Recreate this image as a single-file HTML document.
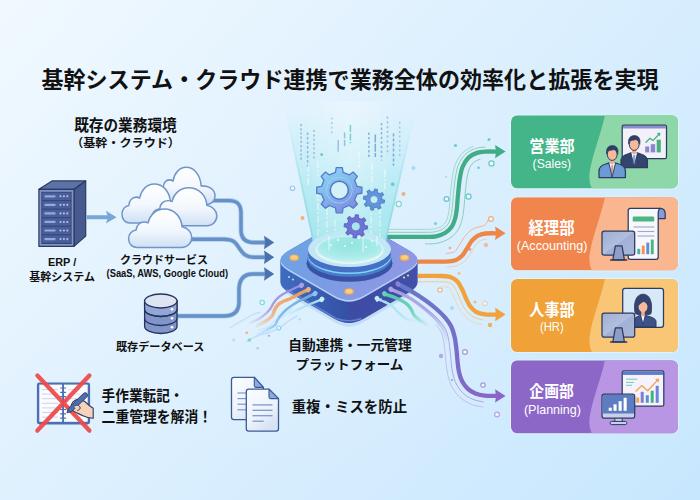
<!DOCTYPE html>
<html lang="ja"><head><meta charset="utf-8"><title>基幹システム・クラウド連携</title>
<style>
html,body{margin:0;padding:0;background:#e4f1fc;}
body{width:700px;height:500px;overflow:hidden;font-family:"Liberation Sans","Noto Sans CJK JP",sans-serif;}
svg{display:block}
svg text{font-family:"Liberation Sans","Noto Sans CJK JP",sans-serif;}
</style></head><body>
<svg width="700" height="500" viewBox="0 0 700 500">

<defs>
<linearGradient id="bg" gradientUnits="userSpaceOnUse" x1="0" y1="0" x2="635" y2="572">
 <stop offset="0" stop-color="#f1f9ff"/><stop offset="0.5" stop-color="#dbeffe"/><stop offset="1" stop-color="#c7e7fe"/>
</linearGradient>
<radialGradient id="bgc" gradientUnits="userSpaceOnUse" cx="300" cy="255" r="310" gradientTransform="translate(300 255) scale(1 0.72) translate(-300 -255)">
 <stop offset="0" stop-color="#eef6fd" stop-opacity="0.14"/><stop offset="0.55" stop-color="#eef6fd" stop-opacity="0.1"/><stop offset="1" stop-color="#eef6fd" stop-opacity="0"/>
</radialGradient>
</defs>
<rect width="700" height="500" fill="url(#bg)"/>
<rect width="700" height="500" fill="url(#bgc)"/>

<clipPath id="bc0"><rect x="511" y="115.3" width="167" height="73.2" rx="6.5"/></clipPath><rect x="510.2" y="114.5" width="168.6" height="74.8" rx="7.2" fill="#e4f6fb" opacity="0.85"/><g clip-path="url(#bc0)"><rect x="511" y="115.3" width="167" height="73.2" fill="#44b489"/><path d="M605 115.3 C 600 137.3, 592 155.3, 589.5 173.3 C 589 179.3, 590 185.3, 592 188.5 L 678 188.5 L 678 115.3 Z" fill="#8dd7a8"/></g><clipPath id="bc1"><rect x="511" y="197.2" width="167" height="73.2" rx="6.5"/></clipPath><rect x="510.2" y="196.39999999999998" width="168.6" height="74.8" rx="7.2" fill="#e4f6fb" opacity="0.85"/><g clip-path="url(#bc1)"><rect x="511" y="197.2" width="167" height="73.2" fill="#f0854d"/><path d="M605 197.2 C 600 219.2, 592 237.2, 589.5 255.2 C 589 261.2, 590 267.2, 592 270.4 L 678 270.4 L 678 197.2 Z" fill="#f9b68f"/></g><clipPath id="bc2"><rect x="511" y="278.9" width="167" height="73.2" rx="6.5"/></clipPath><rect x="510.2" y="278.09999999999997" width="168.6" height="74.8" rx="7.2" fill="#e4f6fb" opacity="0.85"/><g clip-path="url(#bc2)"><rect x="511" y="278.9" width="167" height="73.2" fill="#f0a138"/><path d="M605 278.9 C 600 300.9, 592 318.9, 589.5 336.9 C 589 342.9, 590 348.9, 592 352.1 L 678 352.1 L 678 278.9 Z" fill="#f9c675"/></g><clipPath id="bc3"><rect x="511" y="360.3" width="167" height="73.2" rx="6.5"/></clipPath><rect x="510.2" y="359.5" width="168.6" height="74.8" rx="7.2" fill="#e4f6fb" opacity="0.85"/><g clip-path="url(#bc3)"><rect x="511" y="360.3" width="167" height="73.2" fill="#8d67c7"/><path d="M605 360.3 C 600 382.3, 592 400.3, 589.5 418.3 C 589 424.3, 590 430.3, 592 433.5 L 678 433.5 L 678 360.3 Z" fill="#b896e4"/></g>
<path d="M212 200.6 L229 200.6 C 238 200.6, 241 205, 241 213 L241 230 C 241 238, 245 242.5, 254 242.5 L265 242.5" fill="none" stroke="#b2cfed" stroke-width="5.0" stroke-linecap="butt"/><path d="M212 200.6 L229 200.6 C 238 200.6, 241 205, 241 213 L241 230 C 241 238, 245 242.5, 254 242.5 L265 242.5" fill="none" stroke="#6690c8" stroke-width="3.4" stroke-linecap="butt"/><path d="M190 239.2 L224 239.2 C 234 239.2, 236 243, 239.5 248.5 C 243 254, 246 257.2, 254 257.2 L265 257.2" fill="none" stroke="#b2cfed" stroke-width="5.0" stroke-linecap="butt"/><path d="M190 239.2 L224 239.2 C 234 239.2, 236 243, 239.5 248.5 C 243 254, 246 257.2, 254 257.2 L265 257.2" fill="none" stroke="#6690c8" stroke-width="3.4" stroke-linecap="butt"/><path d="M177 316 L224 316 C 234 316, 239 311, 239 302 L239 290 C 239 280, 243 274, 253 274 L265 274" fill="none" stroke="#b2cfed" stroke-width="5.0" stroke-linecap="butt"/><path d="M177 316 L224 316 C 234 316, 239 311, 239 302 L239 290 C 239 280, 243 274, 253 274 L265 274" fill="none" stroke="#6690c8" stroke-width="3.4" stroke-linecap="butt"/><path d="M264.0 235.7 L274.2 242.5 L264.0 249.3 L265.0 242.5 Z" fill="#4b72ad"/><path d="M264.0 250.39999999999998 L274.2 257.2 L264.0 264.0 L265.0 257.2 Z" fill="#4b72ad"/><path d="M264.0 267.2 L274.2 274 L264.0 280.8 L265.0 274 Z" fill="#4b72ad"/>
<path d="M384.0 229.3 C390.8 229.3 416.5 229.4 424.9 229.3 C433.3 229.2 431.8 229.3 434.5 228.8 C437.2 228.4 439.3 227.5 441.1 226.5 C442.9 225.4 444.2 224.2 445.3 222.6 C446.4 221.0 447.1 219.3 447.7 216.9 C448.4 214.4 448.8 211.8 449.3 208.1 C449.7 204.3 450.0 199.1 450.4 194.3 C450.9 189.4 451.3 183.8 452.1 178.8 C452.9 173.8 453.6 168.6 455.4 164.2 C457.3 159.8 460.2 155.1 463.2 152.2 C466.2 149.2 471.6 147.2 473.3 146.2" fill="none" stroke="#8ad0b6" stroke-width="0.9" opacity="0.8"/><path d="M384.0 232.3 C390.8 232.3 416.4 232.4 424.9 232.3 C433.5 232.2 432.2 232.3 435.1 231.8 C438.1 231.2 440.5 230.3 442.6 229.1 C444.7 227.8 446.4 226.2 447.8 224.3 C449.1 222.4 449.8 220.4 450.6 217.7 C451.3 215.1 451.8 212.3 452.2 208.4 C452.7 204.6 453.0 199.4 453.4 194.6 C453.9 189.7 454.3 184.1 455.1 179.3 C455.9 174.4 456.5 169.5 458.2 165.3 C459.9 161.1 462.4 157.1 465.3 154.3 C468.2 151.5 472.2 149.8 475.5 148.5 C478.8 147.3 483.7 147.3 485.3 147.0" fill="none" stroke="#8ad0b6" stroke-width="1"/><path d="M425.1 243.9 C427.1 243.8 433.4 244.0 437.3 243.2 C441.3 242.4 445.3 241.0 448.6 239.0 C451.9 237.0 455.0 234.1 457.2 231.1 C459.4 228.1 460.6 224.5 461.7 221.0 C462.8 217.4 463.2 214.1 463.7 209.9 C464.3 205.7 464.5 200.5 465.0 195.7 C465.4 190.9 465.8 185.5 466.5 181.1 C467.2 176.8 467.9 172.7 469.0 169.6 C470.2 166.5 471.5 164.4 473.4 162.6 C475.3 160.9 479.2 159.6 480.4 159.0" fill="none" stroke="#8ad0b6" stroke-width="1"/><path d="M384.0 236.9 C390.8 236.9 416.3 237.0 425.0 236.9 C433.7 236.8 432.7 237.0 436.0 236.3 C439.3 235.7 442.4 234.6 445.0 233.0 C447.6 231.4 449.8 229.3 451.5 227.0 C453.2 224.7 454.1 222.0 455.0 219.0 C455.9 216.0 456.3 213.0 456.8 209.0 C457.3 205.0 457.5 199.8 458.0 195.0 C458.5 190.2 458.9 184.7 459.6 180.0 C460.4 175.3 461.0 170.7 462.5 167.0 C464.0 163.3 466.1 159.9 468.5 157.6 C470.9 155.2 474.1 153.9 477.0 152.9 C479.9 151.9 482.8 151.8 486.0 151.6 C489.2 151.4 494.8 151.6 496.5 151.6" fill="none" stroke="#40ad87" stroke-width="4.3"/><path d="M495.1 144.9 L505.6 151.6 L495.1 158.29999999999998 L496.0 151.6 Z" fill="#40ad87"/><path d="M445.7 253.4 C446.9 253.3 451.0 253.0 452.7 252.5 C454.4 251.9 454.9 251.5 456.2 250.1 C457.4 248.6 458.6 246.4 460.1 244.0 C461.6 241.7 463.0 238.4 465.3 235.8 C467.5 233.2 470.4 230.3 473.6 228.6 C476.8 226.8 481.9 226.9 484.4 225.4 C486.9 223.8 487.8 220.4 488.5 219.4" fill="none" stroke="#f5b48e" stroke-width="1"/><path d="M446.8 267.1 C448.6 266.9 454.2 266.7 457.4 265.5 C460.6 264.2 463.6 262.0 466.0 259.7 C468.4 257.4 470.0 254.1 471.7 251.5 C473.4 249.0 474.5 246.4 475.9 244.6 C477.3 242.8 478.3 241.7 480.2 240.7 C482.0 239.8 485.9 239.2 487.0 238.9" fill="none" stroke="#f5b48e" stroke-width="0.8" opacity="0.7"/><path d="M418.0 261.6 C422.7 261.6 439.8 261.8 446.0 261.6 C452.2 261.4 452.8 261.2 455.5 260.2 C458.2 259.2 460.1 257.8 462.0 255.8 C463.9 253.9 465.4 251.0 467.0 248.5 C468.6 246.0 469.9 243.1 471.6 241.0 C473.4 238.9 475.2 237.1 477.5 235.8 C479.8 234.6 482.3 233.9 485.5 233.5 C488.7 233.1 494.7 233.3 496.5 233.3" fill="none" stroke="#ee8648" stroke-width="4.3"/><path d="M495.1 226.60000000000002 L505.6 233.3 L495.1 240.0 L496.0 233.3 Z" fill="#ee8648"/><path d="M418.0 281.8 C422.0 281.8 436.5 281.6 441.8 281.8 C447.0 282.0 447.6 282.2 449.5 282.8 C451.4 283.5 452.1 284.2 453.3 285.7 C454.5 287.2 455.6 289.2 456.8 291.6 C458.0 294.1 459.1 297.5 460.6 300.5 C462.0 303.4 463.2 306.7 465.3 309.4 C467.4 312.2 470.2 315.1 473.2 316.9 C476.2 318.6 481.7 319.5 483.4 320.0" fill="none" stroke="#f6c98e" stroke-width="1"/><path d="M441.6 286.6 C442.6 286.7 446.4 286.9 447.8 287.3 C449.2 287.7 449.0 287.8 449.7 288.9 C450.5 290.0 451.5 291.5 452.5 293.8 C453.6 296.1 454.7 299.4 456.2 302.5 C457.7 305.6 459.0 309.2 461.5 312.3 C463.9 315.4 467.4 319.0 470.8 321.0 C474.3 323.1 480.2 324.0 482.1 324.6" fill="none" stroke="#f6c98e" stroke-width="0.8" opacity="0.7"/><path d="M418.0 276.0 C422.0 276.0 436.4 275.8 442.0 276.0 C447.6 276.2 448.9 276.4 451.5 277.4 C454.1 278.4 455.9 279.9 457.6 281.8 C459.4 283.7 460.6 286.3 462.0 289.0 C463.4 291.7 464.5 295.2 465.8 298.0 C467.1 300.8 468.3 303.7 470.0 306.0 C471.7 308.3 473.5 310.4 476.0 311.8 C478.5 313.2 481.6 313.9 485.0 314.4 C488.4 314.8 494.6 314.5 496.5 314.5" fill="none" stroke="#f0a23c" stroke-width="4.3"/><path d="M495.1 307.8 L505.6 314.5 L495.1 321.2 L496.0 314.5 Z" fill="#f0a23c"/>

<linearGradient id="pside" x1="0" y1="0" x2="1" y2="0">
 <stop offset="0" stop-color="#3f6cc0"/><stop offset="0.5" stop-color="#3450a6"/><stop offset="0.5" stop-color="#3d4ba3"/><stop offset="1" stop-color="#4350aa"/>
</linearGradient>
<linearGradient id="ptop" x1="0" y1="0" x2="1" y2="0.3">
 <stop offset="0" stop-color="#68a6e6"/><stop offset="0.45" stop-color="#789ce4"/><stop offset="1" stop-color="#8f98e4"/>
</linearGradient>
<radialGradient id="disc" cx="0.5" cy="0.35" r="0.75">
 <stop offset="0" stop-color="#7fe0d6"/><stop offset="0.6" stop-color="#9fe9e6"/><stop offset="1" stop-color="#d8f7f4"/>
</radialGradient>
<path d="M292.5 297.8 Q278.3 289.5 292.5 281.2 L334.9 256.5 Q349.0 248.2 363.1 256.5 L405.5 281.2 Q419.7 289.5 405.5 297.8 L363.1 322.5 Q349.0 330.8 334.9 322.5 Z" fill="#a8c2ee" opacity="0.42"/><path id="pdia" d="M288.2 268.9 Q273.0 260.0 288.2 251.1 L333.8 224.5 Q349.0 215.6 364.2 224.5 L409.8 251.1 Q425.0 260.0 409.8 268.9 L364.2 295.5 Q349.0 304.4 333.8 295.5 Z" fill="url(#pside)"/><use href="#pdia" y="1"/><use href="#pdia" y="2"/><use href="#pdia" y="3"/><use href="#pdia" y="4"/><use href="#pdia" y="5"/><use href="#pdia" y="6"/><use href="#pdia" y="7"/><use href="#pdia" y="8"/><use href="#pdia" y="9"/><use href="#pdia" y="10"/><use href="#pdia" y="11"/><use href="#pdia" y="12"/><use href="#pdia" y="13"/><use href="#pdia" y="14"/><use href="#pdia" y="15"/><use href="#pdia" y="16"/><use href="#pdia" y="17"/><use href="#pdia" y="18"/><use href="#pdia" y="19"/><use href="#pdia" y="20"/><use href="#pdia" y="21"/><use href="#pdia" y="22"/><use href="#pdia" y="23"/><path d="M287 289.6 L337 318.79999999999995 Q349 322.56 361 318.79999999999995" fill="none" stroke="#6288d6" stroke-width="1.5" opacity="0.9" stroke-linecap="round"/><path d="M288.2 270.7 Q273.0 261.8 288.2 252.9 L333.8 226.3 Q349.0 217.4 364.2 226.3 L409.8 252.9 Q425.0 261.8 409.8 270.7 L364.2 297.3 Q349.0 306.2 333.8 297.3 Z" fill="#b4d0f6"/><path d="M288.2 268.9 Q273.0 260.0 288.2 251.1 L333.8 224.5 Q349.0 215.6 364.2 224.5 L409.8 251.1 Q425.0 260.0 409.8 268.9 L364.2 295.5 Q349.0 304.4 333.8 295.5 Z" fill="url(#ptop)"/><circle cx="289" cy="277" r="1.1" fill="#9fd8f2"/><circle cx="293" cy="279.5" r="1.1" fill="#9fd8f2"/><circle cx="404" cy="277.5" r="1.1" fill="#f6d38a"/><circle cx="408" cy="275.5" r="1.1" fill="#f6d38a"/><circle cx="377" cy="301" r="1.0" fill="#a8b8ee"/><circle cx="381" cy="299" r="1.0" fill="#a8b8ee"/><ellipse cx="294.2" cy="257.7" rx="4.8" ry="3.3" fill="#f2aa55"/><ellipse cx="294.2" cy="257.4" rx="3.4" ry="2.2" fill="#fad07e"/><ellipse cx="404.5" cy="257.7" rx="4.8" ry="3.3" fill="#f2aa55"/><ellipse cx="404.5" cy="257.4" rx="3.4" ry="2.2" fill="#fad07e"/><ellipse cx="349" cy="291.5" rx="4.8" ry="3.3" fill="#f2aa55"/><ellipse cx="349" cy="291.2" rx="3.4" ry="2.2" fill="#fad07e"/>

<linearGradient id="beamg" gradientUnits="userSpaceOnUse" x1="0" y1="264" x2="0" y2="101">
 <stop offset="0" stop-color="#92e2e6" stop-opacity="0.97"/>
 <stop offset="0.25" stop-color="#a6e6ee" stop-opacity="0.96"/>
 <stop offset="0.55" stop-color="#bcecf5" stop-opacity="0.9"/>
 <stop offset="0.82" stop-color="#d0f0f9" stop-opacity="0.6"/>
 <stop offset="1" stop-color="#dcf3fa" stop-opacity="0"/>
</linearGradient>
<linearGradient id="beame" gradientUnits="userSpaceOnUse" x1="0" y1="250" x2="0" y2="120">
 <stop offset="0" stop-color="#7fd3e2" stop-opacity="0.9"/><stop offset="0.6" stop-color="#9adcea" stop-opacity="0.5"/><stop offset="1" stop-color="#b4e6f2" stop-opacity="0"/>
</linearGradient>
<linearGradient id="beamc" x1="0" y1="0" x2="1" y2="0">
 <stop offset="0" stop-color="#ffffff" stop-opacity="0.0"/>
 <stop offset="0.5" stop-color="#ffffff" stop-opacity="0.3"/>
 <stop offset="1" stop-color="#ffffff" stop-opacity="0.0"/>
</linearGradient>
<path d="M283 101 L418 101 L384 249.5 A34.7 14.2 0 0 1 314.6 249.5 Z" fill="url(#beamg)"/>
<path d="M303 101 L398 101 L376 250 L322 250 Z" fill="url(#beamc)"/>
<path d="M283.8 101 L315.2 249.5 M417.2 101 L383.4 249.5" stroke="url(#beame)" stroke-width="1.8" fill="none"/>
<line x1="301.1" y1="124" x2="301.1" y2="160.4" stroke="#86a9d6" stroke-width="1.5" stroke-dasharray="2.2 2" opacity="0.8"/><line x1="307.6" y1="132.5" x2="307.6" y2="167.9" stroke="#7fa6d8" stroke-width="1.5" stroke-dasharray="2.4 2.2" opacity="0.8"/><line x1="314" y1="130" x2="314" y2="160" stroke="#8ab0dc" stroke-width="1.5" stroke-dasharray="2 2.4" opacity="0.8"/><line x1="331.8" y1="117.5" x2="331.8" y2="134.6" stroke="#a4c4e4" stroke-width="1.5" stroke-dasharray="2 2.6" opacity="0.8"/><line x1="338.2" y1="140" x2="338.2" y2="151.8" stroke="#8fb2dc" stroke-width="1.5" stroke-dasharray="12 1" opacity="0.8"/><line x1="344.6" y1="132.5" x2="344.6" y2="146.4" stroke="#7fb8d8" stroke-width="1.5" stroke-dasharray="6 1.5" opacity="0.8"/><line x1="350.4" y1="125" x2="350.4" y2="143.2" stroke="#5ecab8" stroke-width="1.5" stroke-dasharray="7 1.5" opacity="0.8"/><line x1="368.9" y1="132.5" x2="368.9" y2="158.2" stroke="#7a9fd8" stroke-width="1.5" stroke-dasharray="2.4 2" opacity="0.8"/><line x1="375.3" y1="134.6" x2="375.3" y2="157.1" stroke="#6f98d6" stroke-width="1.5" stroke-dasharray="8 1.2" opacity="0.8"/><line x1="381.5" y1="122.9" x2="381.5" y2="160.4" stroke="#7da4da" stroke-width="1.5" stroke-dasharray="2.4 2.2" opacity="0.8"/><line x1="387.5" y1="116.4" x2="387.5" y2="155" stroke="#8fb2de" stroke-width="1.5" stroke-dasharray="2.2 2.6" opacity="0.8"/><line x1="393.5" y1="133.6" x2="393.5" y2="165.7" stroke="#6f98d6" stroke-width="1.5" stroke-dasharray="3 2" opacity="0.8"/><line x1="399.7" y1="121.8" x2="399.7" y2="157.1" stroke="#9dbde2" stroke-width="1.5" stroke-dasharray="2 2.6" opacity="0.8"/><line x1="308.2" y1="165" x2="308.2" y2="186" stroke="#ffffff" stroke-width="1.1" opacity="0.7" stroke-dasharray="7 2 2 2"/><line x1="317.9" y1="161" x2="317.9" y2="176" stroke="#ffffff" stroke-width="1.1" opacity="0.7" stroke-dasharray="7 2 2 2"/><line x1="359" y1="152" x2="359" y2="168" stroke="#ffffff" stroke-width="1.1" opacity="0.7" stroke-dasharray="7 2 2 2"/><line x1="371.9" y1="163" x2="371.9" y2="186" stroke="#ffffff" stroke-width="1.1" opacity="0.7" stroke-dasharray="7 2 2 2"/><line x1="384.9" y1="170" x2="384.9" y2="189" stroke="#ffffff" stroke-width="1.1" opacity="0.7" stroke-dasharray="7 2 2 2"/><line x1="318" y1="190" x2="318" y2="238" stroke="#ffffff" stroke-width="1.1" opacity="0.7" stroke-dasharray="7 2 2 2"/><line x1="327" y1="208" x2="327" y2="244" stroke="#ffffff" stroke-width="1.1" opacity="0.7" stroke-dasharray="7 2 2 2"/><line x1="335" y1="220" x2="335" y2="248" stroke="#ffffff" stroke-width="1.1" opacity="0.7" stroke-dasharray="7 2 2 2"/><line x1="363" y1="218" x2="363" y2="248" stroke="#ffffff" stroke-width="1.1" opacity="0.7" stroke-dasharray="7 2 2 2"/><line x1="371" y1="204" x2="371" y2="244" stroke="#ffffff" stroke-width="1.1" opacity="0.7" stroke-dasharray="7 2 2 2"/><line x1="380" y1="194" x2="380" y2="240" stroke="#ffffff" stroke-width="1.1" opacity="0.7" stroke-dasharray="7 2 2 2"/><circle cx="321.7" cy="154.6" r="1.4" fill="#5ccab0"/><circle cx="392.4" cy="183.9" r="1.6" fill="#5ccab8" opacity="0.8"/>
<ellipse cx="349.5" cy="263.2" rx="43" ry="18.6" fill="#3a52a3"/><ellipse cx="349.5" cy="258.5" rx="42" ry="18.3" fill="#4a7bd0"/><ellipse cx="349.5" cy="256" rx="41.6" ry="18" fill="#7fd6f2"/><ellipse cx="349.5" cy="254.6" rx="41.6" ry="18" fill="#4570c6"/><ellipse cx="349.5" cy="249.2" rx="41.4" ry="17.8" fill="#c2e6f8"/><ellipse cx="349.7" cy="250.1" rx="34" ry="14" fill="#f3fcf1"/><ellipse cx="349.7" cy="249.2" rx="32.4" ry="12.6" fill="url(#disc)"/>
<linearGradient id="bfg" gradientUnits="userSpaceOnUse" x1="0" y1="205" x2="0" y2="262"><stop offset="0" stop-color="#bdeef4" stop-opacity="0"/><stop offset="1" stop-color="#bdeef4" stop-opacity="0.4"/></linearGradient><path d="M304 200 L395.4 200 L384 249.5 A34.7 14.2 0 0 1 314.6 249.5 Z" fill="url(#bfg)"/><circle cx="338" cy="240" r="0.9" fill="#fff" opacity="0.9"/><circle cx="345" cy="246" r="0.9" fill="#fff" opacity="0.9"/><circle cx="352" cy="243" r="0.9" fill="#fff" opacity="0.9"/><circle cx="359" cy="238" r="0.9" fill="#fff" opacity="0.9"/><circle cx="366" cy="247" r="0.9" fill="#fff" opacity="0.9"/><circle cx="372" cy="241" r="0.9" fill="#fff" opacity="0.9"/><circle cx="331" cy="245" r="0.9" fill="#fff" opacity="0.9"/><line x1="329" y1="236" x2="329" y2="250" stroke="#fff" stroke-width="0.9" opacity="0.8"/><line x1="363" y1="238" x2="363" y2="252" stroke="#fff" stroke-width="0.9" opacity="0.8"/><line x1="377" y1="236" x2="377" y2="246" stroke="#fff" stroke-width="0.9" opacity="0.8"/>

<linearGradient id="g1" x1="0.2" y1="0" x2="0.8" y2="1"><stop offset="0" stop-color="#8ad6f5"/><stop offset="0.5" stop-color="#80b4ec"/><stop offset="1" stop-color="#7f86de"/></linearGradient>
<path d="M335.47 172.41 L336.26 167.60 L342.34 167.60 L343.13 172.41 L349.17 174.91 L353.13 172.08 L357.42 176.37 L354.59 180.33 L357.09 186.37 L361.90 187.16 L361.90 193.24 L357.09 194.03 L354.59 200.07 L357.42 204.03 L353.13 208.32 L349.17 205.49 L343.13 207.99 L342.34 212.80 L336.26 212.80 L335.47 207.99 L329.43 205.49 L325.47 208.32 L321.18 204.03 L324.01 200.07 L321.51 194.03 L316.70 193.24 L316.70 187.16 L321.51 186.37 L324.01 180.33 L321.18 176.37 L325.47 172.08 L329.43 174.91 Z" fill="url(#g1)" stroke="#5679ca" stroke-width="1.3" stroke-linejoin="round"/><circle cx="339.3" cy="190.2" r="13" fill="none" stroke="#a6d6f4" stroke-width="0.9" opacity="0.8"/><circle cx="339.3" cy="190.2" r="9" fill="#d3f1f6" stroke="#5275c6" stroke-width="1.5"/><path d="M373.97 191.60 L374.79 189.03 L377.39 189.56 L377.15 192.24 L379.63 193.92 L382.03 192.68 L383.50 194.90 L381.43 196.62 L382.00 199.57 L384.57 200.39 L384.04 202.99 L381.36 202.75 L379.68 205.23 L380.92 207.63 L378.70 209.10 L376.98 207.03 L374.03 207.60 L373.21 210.17 L370.61 209.64 L370.85 206.96 L368.37 205.28 L365.97 206.52 L364.50 204.30 L366.57 202.58 L366.00 199.63 L363.43 198.81 L363.96 196.21 L366.64 196.45 L368.32 193.97 L367.08 191.57 L369.30 190.10 L371.02 192.17 Z" fill="#6294da" stroke="#5685cf" stroke-width="1.2" stroke-linejoin="round"/><circle cx="374" cy="199.6" r="4" fill="#c4ecf4" stroke="#5685cf" stroke-width="0.8"/><path d="M354.88 217.65 L355.50 214.80 L358.40 215.09 L358.44 218.00 L361.34 219.56 L363.79 217.99 L365.63 220.24 L363.60 222.33 L364.55 225.48 L367.40 226.10 L367.11 229.00 L364.20 229.04 L362.64 231.94 L364.21 234.39 L361.96 236.23 L359.87 234.20 L356.72 235.15 L356.10 238.00 L353.20 237.71 L353.16 234.80 L350.26 233.24 L347.81 234.81 L345.97 232.56 L348.00 230.47 L347.05 227.32 L344.20 226.70 L344.49 223.80 L347.40 223.76 L348.96 220.86 L347.39 218.41 L349.64 216.57 L351.73 218.60 Z" fill="#6e74d4" stroke="#6068c8" stroke-width="1.2" stroke-linejoin="round"/><circle cx="355.8" cy="226.4" r="4.5" fill="#a8e6ec" stroke="#6068c8" stroke-width="0.8"/>
<circle cx="398.7" cy="204" r="2.6" fill="#fff" fill-opacity="0.7" stroke="#74d6c9" stroke-width="1.2" opacity="0.9"/><circle cx="446.5" cy="199" r="2.4" fill="#fff" fill-opacity="0.7" stroke="#53c3cf" stroke-width="1.2" opacity="0.9"/><circle cx="468.5" cy="196.5" r="2.6" fill="#fff" fill-opacity="0.7" stroke="#53c3cf" stroke-width="1.2" opacity="0.9"/><circle cx="491.5" cy="163.5" r="2.6" fill="#fff" fill-opacity="0.7" stroke="#5cc7b5" stroke-width="1.2" opacity="0.9"/><circle cx="455.5" cy="145.5" r="1.6" fill="#53c3cf" opacity="0.85"/><circle cx="489" cy="139.5" r="1.5" fill="#53c3cf" opacity="0.85"/><circle cx="413.5" cy="168" r="2" fill="#7fcdea" opacity="0.6"/><circle cx="478.5" cy="167.8" r="1.3" fill="#53c3cf" opacity="0.85"/><circle cx="435.5" cy="223.5" r="1.6" fill="#53c3cf" opacity="0.7"/><circle cx="446" cy="177" r="1" fill="#53c3cf" opacity="0.5"/><circle cx="403.5" cy="194" r="2" fill="#f2a45e" opacity="0.85"/><circle cx="393" cy="184.5" r="1.8" fill="#6fc3dd" opacity="0.7"/><circle cx="491" cy="219" r="2.4" fill="#fff" fill-opacity="0.7" stroke="#f2a76f" stroke-width="1.2" opacity="0.9"/><circle cx="486" cy="245" r="2.2" fill="#f4b08a" opacity="0.8"/><circle cx="470" cy="249.5" r="1.4" fill="#ee8e6a" opacity="0.85"/><circle cx="450" cy="248" r="1.3" fill="#ee9a7a" opacity="0.8"/><circle cx="459" cy="273.5" r="1.4" fill="#f4b58a" opacity="0.8"/><circle cx="440" cy="290" r="2.2" fill="#fff" fill-opacity="0.7" stroke="#f3b47c" stroke-width="1.2" opacity="0.9"/><circle cx="475" cy="302" r="1.5" fill="#f3b060" opacity="0.8"/><circle cx="485" cy="303.5" r="2.2" fill="#fff" fill-opacity="0.7" stroke="#f3c088" stroke-width="0.9" opacity="0.9"/><circle cx="490" cy="325" r="2.2" fill="#f2a43e" opacity="0.85"/><circle cx="452" cy="308" r="2" fill="#7fd3ea" opacity="0.6"/><circle cx="465" cy="352" r="2.4" fill="#fff" fill-opacity="0.7" stroke="#a78ce0" stroke-width="1.2" opacity="0.9"/><circle cx="441" cy="356" r="2.2" fill="#9d8fe0" opacity="0.7"/><circle cx="483" cy="385" r="2.2" fill="#fff" fill-opacity="0.7" stroke="#a78ce0" stroke-width="1.2" opacity="0.9"/><circle cx="497" cy="414.5" r="2.4" fill="#fff" fill-opacity="0.7" stroke="#b79be6" stroke-width="1.2" opacity="0.9"/><circle cx="452" cy="380" r="1" fill="#8a7fd0" opacity="0.8"/><circle cx="292.5" cy="188.2" r="2.2" fill="#fff" fill-opacity="0.7" stroke="#8cc4ee" stroke-width="1.2" opacity="0.9"/><circle cx="302.5" cy="218" r="2" fill="#f2a45e" opacity="0.85"/>
<linearGradient id="pg" gradientUnits="userSpaceOnUse" x1="405" y1="295" x2="500" y2="396"><stop offset="0" stop-color="#6876cc"/><stop offset="0.6" stop-color="#7a6cc8"/><stop offset="1" stop-color="#8a66c8"/></linearGradient><path d="M422.0 305.8 C423.8 307.2 429.7 311.6 432.8 314.3 C435.9 317.0 438.4 319.5 440.5 321.9 C442.6 324.4 444.0 326.2 445.3 328.8 C446.5 331.4 447.4 334.0 448.2 337.5 C449.0 341.0 449.5 345.6 450.0 349.8 C450.6 354.0 450.8 358.8 451.2 362.7 C451.7 366.7 451.9 369.9 452.8 373.4 C453.6 377.0 454.6 380.6 456.3 383.9 C458.1 387.3 460.5 390.7 463.2 393.3 C466.0 395.9 469.5 398.0 473.0 399.4 C476.4 400.9 482.0 401.5 483.8 402.0" fill="none" stroke="#b3a4e2" stroke-width="1"/><path d="M435.8 324.3 C436.6 325.5 439.4 328.8 440.6 331.1 C441.8 333.5 442.4 335.4 443.1 338.7 C443.8 341.9 444.4 346.3 444.9 350.4 C445.4 354.5 445.6 359.3 446.1 363.3 C446.5 367.3 446.8 370.8 447.7 374.6 C448.6 378.5 449.7 382.6 451.7 386.3 C453.7 390.1 456.5 394.1 459.7 397.1 C462.9 400.1 467.0 402.5 471.0 404.2 C474.9 405.9 481.2 406.6 483.2 407.1" fill="none" stroke="#b3a4e2" stroke-width="0.9" opacity="0.7"/><path d="M398.0 284.0 C400.3 285.3 407.3 288.8 412.0 291.6 C416.7 294.4 421.8 297.8 426.0 300.8 C430.2 303.8 433.8 306.7 437.0 309.5 C440.2 312.3 443.1 315.1 445.4 317.8 C447.7 320.6 449.5 323.0 451.0 326.0 C452.5 329.0 453.5 332.2 454.4 336.0 C455.3 339.8 455.9 344.7 456.4 349.0 C456.9 353.3 457.2 358.2 457.6 362.0 C458.0 365.8 458.3 368.8 459.0 372.0 C459.7 375.2 460.6 378.2 462.0 381.0 C463.4 383.8 465.4 386.5 467.6 388.6 C469.8 390.7 472.6 392.3 475.4 393.5 C478.2 394.7 481.0 395.2 484.5 395.6 C488.0 396.0 494.5 395.8 496.5 395.9" fill="none" stroke="url(#pg)" stroke-width="4.3"/><path d="M495.1 389.2 L505.6 395.9 L495.1 402.59999999999997 L496.0 395.9 Z" fill="#8a66c8"/><linearGradient id="cb1" gradientUnits="userSpaceOnUse" x1="391" y1="289" x2="447" y2="345"><stop offset="0" stop-color="#a99fe2"/><stop offset="0.55" stop-color="#a99fe2" stop-opacity="0.85"/><stop offset="1" stop-color="#a99fe2" stop-opacity="0"/></linearGradient><path d="M391.0 289.5 C392.8 290.2 398.5 292.4 402.0 294.0 C405.5 295.6 408.2 296.9 412.0 299.4 C415.8 301.9 420.8 305.5 425.0 309.0 C429.2 312.5 434.0 316.7 437.2 320.4 C440.4 324.1 442.3 326.9 444.0 331.0 C445.7 335.1 446.9 342.7 447.5 345.0" fill="none" stroke="url(#cb1)" stroke-width="3.3" stroke-linecap="round"/><linearGradient id="cb2" gradientUnits="userSpaceOnUse" x1="384" y1="294" x2="429" y2="326"><stop offset="0" stop-color="#58cdb0"/><stop offset="0.55" stop-color="#58cdb0" stop-opacity="0.85"/><stop offset="1" stop-color="#58cdb0" stop-opacity="0"/></linearGradient><path d="M384.6 294.0 C386.5 294.7 392.4 296.4 396.0 298.0 C399.6 299.6 403.8 301.6 406.4 303.6 C409.0 305.6 410.1 307.9 411.5 310.0 C412.9 312.1 413.2 314.4 414.8 316.2 C416.4 318.0 418.7 319.4 421.0 321.0 C423.3 322.6 427.5 325.2 428.8 326.0" fill="none" stroke="url(#cb2)" stroke-width="3.3" stroke-linecap="round"/><linearGradient id="cb3" gradientUnits="userSpaceOnUse" x1="377" y1="299" x2="421" y2="323"><stop offset="0" stop-color="#a9e6f2"/><stop offset="0.55" stop-color="#a9e6f2" stop-opacity="0.85"/><stop offset="1" stop-color="#a9e6f2" stop-opacity="0"/></linearGradient><path d="M377.0 299.0 C378.3 299.5 382.4 300.8 385.0 302.0 C387.6 303.2 390.1 304.6 392.4 306.4 C394.7 308.2 396.7 310.9 399.0 313.0 C401.3 315.1 404.1 317.8 406.4 319.0 C408.7 320.2 410.7 319.8 413.0 320.5 C415.3 321.2 419.2 322.8 420.4 323.2" fill="none" stroke="url(#cb3)" stroke-width="2.6" stroke-linecap="round"/><ellipse cx="398" cy="284" rx="2.4" ry="2.8" fill="#8d80d6" transform="rotate(-30 398 284)"/><ellipse cx="391" cy="289.3" rx="2.4" ry="2.8" fill="#b0a3e6" transform="rotate(-30 391 289.3)"/><ellipse cx="384.6" cy="293.8" rx="2.4" ry="2.8" fill="#5fd4b4" transform="rotate(-30 384.6 293.8)"/><ellipse cx="377.2" cy="298.6" rx="2.4" ry="2.8" fill="#bfeef6" transform="rotate(-30 377.2 298.6)"/><linearGradient id="cb4" gradientUnits="userSpaceOnUse" x1="301" y1="285" x2="247" y2="325"><stop offset="0" stop-color="#9b90e0"/><stop offset="0.55" stop-color="#9b90e0" stop-opacity="0.85"/><stop offset="1" stop-color="#9b90e0" stop-opacity="0"/></linearGradient><path d="M301.2 285.2 C299.3 286.1 293.6 288.6 290.0 290.5 C286.4 292.4 282.2 294.5 279.5 296.5 C276.8 298.5 275.5 300.5 274.0 302.5 C272.5 304.5 271.8 306.7 270.5 308.5 C269.2 310.3 267.8 311.9 266.0 313.5 C264.2 315.1 262.8 316.5 260.0 318.2 C257.2 319.9 251.2 322.6 249.5 323.5" fill="none" stroke="url(#cb4)" stroke-width="2.3" stroke-linecap="round"/><linearGradient id="cb5" gradientUnits="userSpaceOnUse" x1="308" y1="289" x2="252" y2="329"><stop offset="0" stop-color="#f2a060"/><stop offset="0.55" stop-color="#f2a060" stop-opacity="0.85"/><stop offset="1" stop-color="#f2a060" stop-opacity="0"/></linearGradient><path d="M308.0 289.7 C306.5 290.4 302.0 292.5 299.0 294.0 C296.0 295.5 292.6 297.5 290.0 298.7 C287.4 299.9 285.5 300.2 283.5 301.2 C281.5 302.2 279.5 303.2 278.0 304.7 C276.5 306.2 275.5 308.1 274.5 310.0 C273.5 311.9 273.6 314.1 272.0 316.0 C270.4 317.9 267.5 319.9 265.0 321.5 C262.5 323.1 258.3 325.0 257.0 325.7" fill="none" stroke="url(#cb5)" stroke-width="3.4" stroke-linecap="round"/><linearGradient id="cb6" gradientUnits="userSpaceOnUse" x1="315" y1="293" x2="254" y2="337"><stop offset="0" stop-color="#6fb0e2"/><stop offset="0.55" stop-color="#6fb0e2" stop-opacity="0.85"/><stop offset="1" stop-color="#6fb0e2" stop-opacity="0"/></linearGradient><path d="M314.7 293.5 C312.8 294.4 307.1 297.1 303.5 299.0 C299.9 300.9 295.8 302.9 293.0 304.7 C290.2 306.4 288.5 307.8 286.5 309.5 C284.5 311.2 282.5 313.4 281.0 315.2 C279.5 316.9 278.5 318.4 277.5 320.0 C276.5 321.6 276.9 323.2 275.0 325.0 C273.1 326.8 269.0 328.9 266.0 330.5 C263.0 332.1 258.5 334.0 257.0 334.7" fill="none" stroke="url(#cb6)" stroke-width="2.5" stroke-linecap="round"/><linearGradient id="cb7" gradientUnits="userSpaceOnUse" x1="322" y1="299" x2="285" y2="316"><stop offset="0" stop-color="#a8e2f2"/><stop offset="0.55" stop-color="#a8e2f2" stop-opacity="0.85"/><stop offset="1" stop-color="#a8e2f2" stop-opacity="0"/></linearGradient><path d="M321.5 299.5 C319.8 300.2 314.8 302.1 311.5 303.5 C308.2 304.9 304.8 306.4 302.0 307.7 C299.2 308.9 297.2 309.9 295.0 311.0 C292.8 312.1 289.6 313.9 288.5 314.5" fill="none" stroke="url(#cb7)" stroke-width="2.3" stroke-linecap="round"/><ellipse cx="301.5" cy="285.3" rx="2.4" ry="2.8" fill="#a9a0e6" transform="rotate(30 301.5 285.3)"/><ellipse cx="308.3" cy="289.6" rx="2.4" ry="2.8" fill="#f3ae72" transform="rotate(30 308.3 289.6)"/><ellipse cx="315.0" cy="293.6" rx="2.4" ry="2.8" fill="#8cc4f0" transform="rotate(30 315.0 293.6)"/><ellipse cx="321.8" cy="299.4" rx="2.4" ry="2.8" fill="#c4f0f8" transform="rotate(30 321.8 299.4)"/><path d="M297.5 316.0 C295.9 316.9 291.0 319.5 288.0 321.5 C285.0 323.5 282.7 326.2 279.5 328.0 C276.3 329.8 272.5 331.2 269.0 332.5 C265.5 333.8 262.2 334.1 258.5 335.5 C254.8 336.9 248.9 340.1 247.0 341.0" fill="none" stroke="#a3d0f2" stroke-width="1.4" opacity="0.55" stroke-linecap="round"/><path d="M260.0 312.2 C258.7 312.7 254.5 313.9 252.0 315.0 C249.5 316.1 247.5 317.6 245.0 319.0 C242.5 320.4 239.5 322.0 237.0 323.5 C234.5 325.0 231.2 327.2 230.0 328.0" fill="none" stroke="#a3d0f2" stroke-width="1.3" opacity="0.5" stroke-linecap="round"/><path d="M292.0 309.0 C290.7 310.2 286.7 314.2 284.0 316.0 C281.3 317.8 278.7 318.2 276.0 320.0 C273.3 321.8 270.8 325.3 268.0 327.0 C265.2 328.7 260.5 329.5 259.0 330.0" fill="none" stroke="#a3d0f2" stroke-width="1.1" opacity="0.35" stroke-linecap="round"/><circle cx="262.2" cy="302.5" r="2.2" fill="#fff" fill-opacity="0.7" stroke="#6fdcd8" stroke-width="1.2" opacity="0.9"/><circle cx="278.7" cy="328" r="2.0" fill="#fff" fill-opacity="0.7" stroke="#7fd4f0" stroke-width="1.2" opacity="0.9"/><circle cx="246.8" cy="332.8" r="1.4" fill="#f2a776" opacity="0.85"/><circle cx="249.5" cy="340" r="1.7" fill="#6fd2c8" opacity="0.8"/><circle cx="233.7" cy="340" r="1.6" fill="#a8d8ee" opacity="0.7"/><circle cx="269" cy="335.8" r="1.1" fill="#8f8fd8" opacity="0.7"/><circle cx="257.7" cy="348.2" r="1.2" fill="#a8b0e4" opacity="0.7"/><circle cx="299.7" cy="319.3" r="1.3" fill="#a8d4f0" opacity="0.7"/>
<g stroke-linejoin="round"><path d="M38.9 189.3 L52 180.9 L85.7 180.9 L74 189.3 Z" fill="#5d73a8" stroke="#2b3a63" stroke-width="1.2"/><path d="M74 189.3 L85.7 180.9 L85.7 236.1 L74 246.4 Z" fill="#475a90" stroke="#2b3a63" stroke-width="1.2"/><rect x="38.9" y="189.3" width="35.1" height="57.1" fill="#7f94c5" stroke="#2b3a63" stroke-width="1.2"/><rect x="41.3" y="191.8" width="30.3" height="52.2" fill="#34477c"/><rect x="42.2" y="192.60" width="28.5" height="7.4" fill="#4a5f99"/><rect x="44.5" y="195.20" width="11" height="2.2" rx="0.6" fill="#93a9d8"/><circle cx="60.5" cy="196.30" r="1.05" fill="#b4c3e6"/><circle cx="63.9" cy="196.30" r="1.05" fill="#b4c3e6"/><circle cx="67.3" cy="196.30" r="1.05" fill="#b4c3e6"/><rect x="42.2" y="201.15" width="28.5" height="7.4" fill="#4a5f99"/><rect x="44.5" y="203.75" width="11" height="2.2" rx="0.6" fill="#93a9d8"/><circle cx="60.5" cy="204.85" r="1.05" fill="#b4c3e6"/><circle cx="63.9" cy="204.85" r="1.05" fill="#b4c3e6"/><circle cx="67.3" cy="204.85" r="1.05" fill="#b4c3e6"/><rect x="42.2" y="209.70" width="28.5" height="7.4" fill="#4a5f99"/><rect x="44.5" y="212.30" width="11" height="2.2" rx="0.6" fill="#93a9d8"/><circle cx="60.5" cy="213.40" r="1.05" fill="#b4c3e6"/><circle cx="63.9" cy="213.40" r="1.05" fill="#b4c3e6"/><circle cx="67.3" cy="213.40" r="1.05" fill="#b4c3e6"/><rect x="42.2" y="218.25" width="28.5" height="7.4" fill="#4a5f99"/><rect x="44.5" y="220.85" width="11" height="2.2" rx="0.6" fill="#93a9d8"/><circle cx="60.5" cy="221.95" r="1.05" fill="#b4c3e6"/><circle cx="63.9" cy="221.95" r="1.05" fill="#b4c3e6"/><circle cx="67.3" cy="221.95" r="1.05" fill="#b4c3e6"/><rect x="42.2" y="226.80" width="28.5" height="7.4" fill="#4a5f99"/><rect x="44.5" y="229.40" width="11" height="2.2" rx="0.6" fill="#93a9d8"/><circle cx="60.5" cy="230.50" r="1.05" fill="#b4c3e6"/><circle cx="63.9" cy="230.50" r="1.05" fill="#b4c3e6"/><circle cx="67.3" cy="230.50" r="1.05" fill="#b4c3e6"/><rect x="42.2" y="235.35" width="28.5" height="7.4" fill="#4a5f99"/><rect x="44.5" y="237.95" width="11" height="2.2" rx="0.6" fill="#93a9d8"/><circle cx="60.5" cy="239.05" r="1.05" fill="#b4c3e6"/><circle cx="63.9" cy="239.05" r="1.05" fill="#b4c3e6"/><circle cx="67.3" cy="239.05" r="1.05" fill="#b4c3e6"/></g>
<path d="M86.8 215.2 L107.5 215.2 L105.8 210.8 L116.6 217.2 L105.8 223.6 L107.5 219.2 L86.8 219.2 Z" fill="#77a6d8"/>
<linearGradient id="cg" x1="0" y1="0" x2="0" y2="1"><stop offset="0" stop-color="#ffffff"/><stop offset="0.55" stop-color="#f2f7fd"/><stop offset="1" stop-color="#cfe0f4"/></linearGradient><path transform="translate(157.5 167.3) scale(0.865 0.93)" d="M 9 40 C 3 40, 0 35.5, 0 31 C 0 26, 3 22, 7 21.5 C 6.5 17, 9.5 13.5, 14 13.5 C 15.5 13.5, 17 14, 18 14.8 C 19.5 6, 25.5 0, 33 0 C 42.5 0, 49.5 8, 50.5 20 C 60 19.5, 66.5 24, 66.5 31 C 66.5 36, 62 40, 56 40 Z" fill="url(#cg)" stroke="#6f95c9" stroke-width="1.68" stroke-linejoin="round"/><path transform="translate(122 184) scale(0.86 0.975)" d="M 9 40 C 3 40, 0 35.5, 0 31 C 0 26, 3.5 22.5, 8 22 C 8 17, 12 13.5, 16.5 13.5 C 18 13.5, 19.3 13.8, 20.5 14.5 C 22.5 6, 29 0, 37.5 0 C 48 0, 55.5 8, 56.3 18.5 C 62 19.5, 66.5 24, 66.5 29.5 C 66.5 35.5, 62 40, 56 40 Z" fill="url(#cg)" stroke="#6f95c9" stroke-width="1.65" stroke-linejoin="round"/><path transform="translate(152 187.8) scale(0.975 0.95)" d="M 9 40 C 3 40, 0 35.5, 0 31 C 0 26, 3.5 22.5, 8 22 C 8 17, 12 13.5, 16.5 13.5 C 18 13.5, 19.3 13.8, 20.5 14.5 C 22.5 6, 29 0, 37.5 0 C 48 0, 55.5 8, 56.3 18.5 C 62 19.5, 66.5 24, 66.5 29.5 C 66.5 35.5, 62 40, 56 40 Z" fill="url(#cg)" stroke="#6f95c9" stroke-width="1.57" stroke-linejoin="round"/><path transform="translate(128.6 209) scale(0.95 0.96)" d="M 9 40 C 3 40, 0 35.5, 0 31 C 0 26, 3.5 22.5, 8 22 C 8 17, 12 13.5, 16.5 13.5 C 18 13.5, 19.3 13.8, 20.5 14.5 C 22.5 6, 29 0, 37.5 0 C 48 0, 55.5 8, 56.3 18.5 C 62 19.5, 66.5 24, 66.5 29.5 C 66.5 35.5, 62 40, 56 40 Z" fill="url(#cg)" stroke="#6f95c9" stroke-width="1.58" stroke-linejoin="round"/>
<g stroke="#26345c" stroke-width="1.3"><path d="M144.6 301 L144.6 326.5 A16.2 7 0 0 0 177 326.5 L177 301 Z" fill="#8096cb"/><path d="M144.6 301 L144.6 309.5 A16.2 7 0 0 0 177 309.5 L177 301 Z" fill="#93a7d6"/><path d="M144.6 318.5 A16.2 7 0 0 0 177 318.5" fill="none"/><path d="M144.6 309.5 A16.2 7 0 0 0 177 309.5" fill="none"/><ellipse cx="160.8" cy="301" rx="16.2" ry="7" fill="#dde4f2"/></g><circle cx="172" cy="309.3" r="1.3" fill="#fff"/><circle cx="172" cy="318.3" r="1.3" fill="#fff"/><circle cx="172" cy="327.3" r="1.3" fill="#fff"/>
<linearGradient id="mong" x1="0" y1="0" x2="1" y2="1"><stop offset="0" stop-color="#9fadd2"/><stop offset="0.5" stop-color="#b2bfdf"/><stop offset="0.5" stop-color="#a3b1d6"/><stop offset="1" stop-color="#a9b6d9"/></linearGradient><rect x="622.2" y="125.2" width="44.3" height="33.3" rx="1.6" fill="#f3f0fa" stroke="#2c3b60" stroke-width="1.25"/><rect x="622.9" y="125.9" width="42.9" height="2.6" fill="#8a8fd0"/><rect x="645.2" y="146.5" width="4.0" height="5.9" fill="#8a86d2"/><rect x="650.7" y="144.2" width="4.5" height="8.2" fill="#8a86d2"/><rect x="656.7" y="139.7" width="4.1" height="12.7" fill="#47b17c"/><path d="M645.6 142.8 L650 138.3 L653 140.6 L659.2 134" fill="none" stroke="#47b17c" stroke-width="1.3" stroke-linejoin="round"/><path d="M656.8 133 L660.4 132.7 L660 136.4 Z" fill="#47b17c"/><g transform="translate(634.2 143.6) scale(1.0)"><path d="M-13.2 24 L-13.2 17.5 C-13.2 13.5 -10.5 11.6 -6.5 10.4 L-3 9.2 L3 9.2 L6.5 10.4 C10.5 11.6 13.2 13.5 13.2 17.5 L13.2 24 Z" fill="#34446e" stroke="#2c3b60" stroke-width="1.25" stroke-linejoin="round"/><path d="M-3.2 9 L0 23 L3.2 9 Z" fill="#f4f6fb"/><path d="M-0.9 11.3 L0.9 11.3 L1.5 19.5 L0 22 L-1.5 19.5 Z" fill="#7aa6da"/><path d="M-3.4 9.2 L0 23.4 L3.4 9.2" fill="none" stroke="#2c3b60" stroke-width="0.9" stroke-linejoin="round"/><path d="M-2.2 5 L-2.2 9.4 L0 11 L2.2 9.4 L2.2 5 Z" fill="#f0a98c"/><ellipse cx="0" cy="0.8" rx="4.9" ry="6" fill="#f6b99b" stroke="#2c3b60" stroke-width="1"/><path d="M-5.6 0.6 C-6.6 -6.2 -2.8 -8.2 0.6 -8 C4.8 -7.8 6.6 -4.4 5.6 0.8 C5 -2 3.6 -3.6 1.8 -4 C-1 -3 -3.6 -3.2 -4.6 -2.6 C-5.2 -1.6 -5.4 -0.4 -5.6 0.6 Z" fill="#2f3e64" stroke="#2c3b60" stroke-width="0.6" stroke-linejoin="round"/></g><g transform="translate(612.2 153.6) scale(1.0)"><path d="M-13.2 24 L-13.2 17.5 C-13.2 13.5 -10.5 11.6 -6.5 10.4 L-3 9.2 L3 9.2 L6.5 10.4 C10.5 11.6 13.2 13.5 13.2 17.5 L13.2 24 Z" fill="#6a9bd2" stroke="#2c3b60" stroke-width="1.25" stroke-linejoin="round"/><path d="M-3.2 9 L0 23 L3.2 9 Z" fill="#f4f6fb"/><path d="M-0.9 11.3 L0.9 11.3 L1.5 19.5 L0 22 L-1.5 19.5 Z" fill="#d9a0a0"/><path d="M-3.4 9.2 L0 23.4 L3.4 9.2" fill="none" stroke="#2c3b60" stroke-width="0.9" stroke-linejoin="round"/><path d="M-2.2 5 L-2.2 9.4 L0 11 L2.2 9.4 L2.2 5 Z" fill="#f0a98c"/><ellipse cx="0" cy="0.8" rx="4.9" ry="6" fill="#f6b99b" stroke="#2c3b60" stroke-width="1"/><path d="M-5.6 0.6 C-6.6 -6.2 -2.8 -8.2 0.6 -8 C4.8 -7.8 6.6 -4.4 5.6 0.8 C5 -2 3.6 -3.6 1.8 -4 C-1 -3 -3.6 -3.2 -4.6 -2.6 C-5.2 -1.6 -5.4 -0.4 -5.6 0.6 Z" fill="#2f3e64" stroke="#2c3b60" stroke-width="0.6" stroke-linejoin="round"/></g><path d="M660 208.3 C664 208.3 665.2 211 665.2 213.8 L665.2 218.6 L657.5 218.6 L657.5 210 Z" fill="#8a9bdb" stroke="#2c3b60" stroke-width="1.25" stroke-linejoin="round"/><path d="M630.4 208.3 L660.4 208.3 C658.6 209.4 658.2 211 658.2 213 L658.2 257 C658.2 258.4 657.4 259.3 656 259.3 L630.4 259.3 C629 259.3 628.2 258.4 628.2 257 L628.2 210.6 C628.2 209.2 629 208.3 630.4 208.3 Z" fill="#f7f7fc" stroke="#2c3b60" stroke-width="1.25" stroke-linejoin="round"/><rect x="632.7" y="216.6" width="21.5" height="5" rx="1.2" fill="#4bb680"/><line x1="633.5" y1="227" x2="654.2" y2="227" stroke="#9ba9cb" stroke-width="1.1"/><line x1="637.5" y1="231.5" x2="654.2" y2="231.5" stroke="#9ba9cb" stroke-width="1.1"/><line x1="637.5" y1="236" x2="654.2" y2="236" stroke="#9ba9cb" stroke-width="1.1"/><rect x="637.3" y="248.8" width="2.9" height="5.4" fill="#4bb0a6"/><rect x="641.8" y="245.6" width="2.9" height="8.6" fill="#f0934c"/><rect x="646.3" y="242.6" width="2.9" height="11.6" fill="#5c8fd8"/><rect x="650.8" y="239.6" width="2.9" height="14.6" fill="#4bb680"/><rect x="602" y="231.2" width="32.7" height="24" rx="2.2" fill="url(#mong)" stroke="#2c3b60" stroke-width="1.25"/><path d="M615.4 245.79999999999998 L622.0 245.79999999999998 L624.4 259.8 L612.8 259.8 Z" fill="#8e9dc9" stroke="#2c3b60" stroke-width="1.25" stroke-linejoin="round"/><line x1="610.6" y1="260.0" x2="626.8" y2="260.0" stroke="#2c3b60" stroke-width="1.45" stroke-linecap="round"/><rect x="622.7" y="288.3" width="40.8" height="39" rx="2.4" fill="#d7e9f6" stroke="#2c3b60" stroke-width="1.25"/><g><path d="M635.2 313.5 C633.2 304 635.6 294.2 643 294.2 C650.6 294.2 652.8 304 650.9 313.8 C649 315.2 637 315.2 635.2 313.5 Z" fill="#34446e" stroke="#2c3b60" stroke-width="0.9"/><path d="M634.2 326.9 L634.2 321.5 C634.2 318 636.6 316.6 639.6 315.6 L641 315 L645 315 L646.4 315.6 C649.4 316.6 656 318 656 321.5 L656 326.9 Z" fill="#3d5289" stroke="#2c3b60" stroke-width="1" stroke-linejoin="round"/><path d="M640.9 315.2 L643 323.8 L645.1 315.2 Z" fill="#f4f6fb"/><path d="M640.6 315.2 L643 324.4 L645.4 315.2" fill="none" stroke="#2c3b60" stroke-width="0.8"/><path d="M641.2 310 L641.2 315 L643 316.4 L644.8 315 L644.8 310 Z" fill="#f0a98c"/><ellipse cx="643" cy="306.4" rx="4.5" ry="5.8" fill="#f6b99b"/><path d="M638.2 306.8 C637.6 300.6 640.2 298 643.6 298.2 C647 298.4 648.6 301.2 647.9 306.4 C646.8 303.6 645 302 643.4 301.8 C641.6 303.2 639.4 304 638.2 306.8 Z" fill="#34446e"/></g><rect x="602" y="313.2" width="32.7" height="24" rx="2.2" fill="url(#mong)" stroke="#2c3b60" stroke-width="1.25"/><path d="M615.4 327.8 L622.0 327.8 L624.4 341.8 L612.8 341.8 Z" fill="#8e9dc9" stroke="#2c3b60" stroke-width="1.25" stroke-linejoin="round"/><line x1="610.6" y1="342.0" x2="626.8" y2="342.0" stroke="#2c3b60" stroke-width="1.45" stroke-linecap="round"/><rect x="622.2" y="370.8" width="41.6" height="35.4" rx="1.8" fill="#f6f2fb" stroke="#2c3b60" stroke-width="1.25"/><rect x="622.9" y="371.5" width="40.2" height="3.4" fill="#5b7cc9"/><line x1="626" y1="379.2" x2="637.2" y2="379.2" stroke="#67c3b4" stroke-width="0.9"/><line x1="626" y1="382.4" x2="634" y2="382.4" stroke="#67c3b4" stroke-width="0.9"/><line x1="626" y1="385.3" x2="632" y2="385.3" stroke="#67c3b4" stroke-width="0.9"/><rect x="636.2" y="397.5" width="3" height="5.3" fill="#f2a65a"/><rect x="640.7" y="391.8" width="3" height="11.0" fill="#7e7ed2"/><rect x="645.8" y="395.2" width="3" height="7.6" fill="#5c8fd8"/><rect x="650.7" y="390.7" width="3" height="12.1" fill="#43b27b"/><rect x="655.7" y="385.8" width="3" height="17.0" fill="#6a86d6"/><path d="M635.7 391.5 L641.7 385.6 L647.7 390.7 L657.4 380.4" fill="none" stroke="#f2a04a" stroke-width="1.3" stroke-linejoin="round"/><path d="M655 379 L659.2 378.4 L658.6 382.6 Z" fill="#f2a04a"/><rect x="614.8" y="417" width="7.4" height="5" fill="#c9d1ea" stroke="#2c3b60" stroke-width="1"/><rect x="610.2" y="421.4" width="16.6" height="3.2" rx="1.4" fill="#c9d1ea" stroke="#2c3b60" stroke-width="1"/><rect x="602" y="394.2" width="32.7" height="24" rx="2.2" fill="#c9d1ea" stroke="#2c3b60" stroke-width="1.25"/><path d="M602.7 413.6 L602.7 396.4 Q602.7 394.9 604.2 394.9 L632.5 394.9 Q634 394.9 634 396.4 L634 413.6 Z" fill="#5d7dc2"/><rect x="608.7" y="407.7" width="3.1" height="3.1" fill="#fff"/><rect x="613.5" y="404.3" width="3.1" height="6.5" fill="#fff"/><rect x="618.6" y="401.2" width="3.1" height="9.6" fill="#fff"/><rect x="623.6" y="397.8" width="3.1" height="13.0" fill="#fff"/>
<rect x="36.9" y="382.5" width="53.2" height="42" rx="2.4" fill="#4a6fb2"/><rect x="39.3" y="384.6" width="23" height="37.2" fill="#fbfcff"/><rect x="63.9" y="384.6" width="23.8" height="37.2" fill="#fbfcff"/><line x1="63.1" y1="383" x2="63.1" y2="424" stroke="#4a6fb2" stroke-width="1.4"/><line x1="60.6" y1="388.0" x2="65.6" y2="388.0" stroke="#4a6fb2" stroke-width="1.2" stroke-linecap="round"/><line x1="60.6" y1="392.3" x2="65.6" y2="392.3" stroke="#4a6fb2" stroke-width="1.2" stroke-linecap="round"/><line x1="60.6" y1="396.6" x2="65.6" y2="396.6" stroke="#4a6fb2" stroke-width="1.2" stroke-linecap="round"/><line x1="60.6" y1="400.9" x2="65.6" y2="400.9" stroke="#4a6fb2" stroke-width="1.2" stroke-linecap="round"/><line x1="60.6" y1="405.2" x2="65.6" y2="405.2" stroke="#4a6fb2" stroke-width="1.2" stroke-linecap="round"/><line x1="60.6" y1="409.5" x2="65.6" y2="409.5" stroke="#4a6fb2" stroke-width="1.2" stroke-linecap="round"/><line x1="60.6" y1="413.8" x2="65.6" y2="413.8" stroke="#4a6fb2" stroke-width="1.2" stroke-linecap="round"/><line x1="60.6" y1="418.1" x2="65.6" y2="418.1" stroke="#4a6fb2" stroke-width="1.2" stroke-linecap="round"/><line x1="42" y1="389.5" x2="58" y2="389.5" stroke="#c4cfe6" stroke-width="0.9"/><line x1="42" y1="394.1" x2="58" y2="394.1" stroke="#c4cfe6" stroke-width="0.9"/><line x1="42" y1="398.7" x2="58" y2="398.7" stroke="#c4cfe6" stroke-width="0.9"/><line x1="42" y1="403.3" x2="58" y2="403.3" stroke="#c4cfe6" stroke-width="0.9"/><line x1="42" y1="407.9" x2="58" y2="407.9" stroke="#c4cfe6" stroke-width="0.9"/><line x1="42" y1="412.5" x2="58" y2="412.5" stroke="#c4cfe6" stroke-width="0.9"/><line x1="42" y1="417.1" x2="58" y2="417.1" stroke="#c4cfe6" stroke-width="0.9"/><line x1="68" y1="389.5" x2="80" y2="389.5" stroke="#d3dcee" stroke-width="0.9"/><line x1="68" y1="394.1" x2="80" y2="394.1" stroke="#d3dcee" stroke-width="0.9"/><line x1="68" y1="398.7" x2="80" y2="398.7" stroke="#d3dcee" stroke-width="0.9"/><path d="M37.4 375.5 L89.4 430.6 M89.4 375.5 L37.4 430.6" stroke="#ee4a4a" stroke-width="4.3" stroke-linecap="round" opacity="0.93"/><path d="M71.5 404.5 C73 400.5 77 398.8 80.5 399.6 C84 400.4 86.5 402.5 88.8 405.2 L93.2 408.2 L93.2 418.2 C89 418.2 86 417.4 83 415.8 C79 413.6 75.5 412.8 73.2 410.8 C71.4 409.2 70.8 406.6 71.5 404.5 Z" fill="#f8d3bc" stroke="#2c3b60" stroke-width="1.1" stroke-linejoin="round"/><path d="M67 412.8 L68.4 408.4 L83.2 393.6 C84.4 392.4 86.2 392.6 87 393.6 C87.8 394.6 87.8 396 86.8 397 L71.6 411.6 Z" fill="#4a6fb2" stroke="#2c3b60" stroke-width="0.9" stroke-linejoin="round"/><path d="M74 406.2 C76 404.6 79 405 80 407 C80.6 408.6 79.6 410.2 77.6 410.4" fill="#f8d3bc" stroke="#2c3b60" stroke-width="1" stroke-linecap="round"/>
<linearGradient id="docg" x1="0" y1="0" x2="0.6" y2="1"><stop offset="0" stop-color="#fbfdff"/><stop offset="0.6" stop-color="#eef4fc"/><stop offset="1" stop-color="#d5e3f5"/></linearGradient><path d="M233.9 377.3 L254.3 377.3 L263.4 387.4 L263.4 417.20000000000005 Q263.4 419.6 261.0 419.6 L233.9 419.6 Q231.5 419.6 231.5 417.20000000000005 L231.5 379.7 Q231.5 377.3 233.9 377.3 Z" fill="url(#docg)" stroke="#3c5a96" stroke-width="1.3" stroke-linejoin="round"/><path d="M254.3 377.3 L263.4 387.4 L255.9 387.4 Q254.3 387.4 254.3 385.79999999999995 Z" fill="#8fa9de" stroke="#3c5a96" stroke-width="1.1" stroke-linejoin="round"/><line x1="237.5" y1="393" x2="246" y2="393" stroke="#7e98ca" stroke-width="1.2"/><line x1="237.5" y1="398.6" x2="246" y2="398.6" stroke="#7e98ca" stroke-width="1.2"/><line x1="237.5" y1="404.2" x2="246" y2="404.2" stroke="#7e98ca" stroke-width="1.2"/><line x1="237.5" y1="409.8" x2="246" y2="409.8" stroke="#7e98ca" stroke-width="1.2"/><path d="M248.70000000000002 389.1 L269 389.1 L278.5 398.6 L278.5 428.70000000000005 Q278.5 431.1 276.1 431.1 L248.70000000000002 431.1 Q246.3 431.1 246.3 428.70000000000005 L246.3 391.5 Q246.3 389.1 248.70000000000002 389.1 Z" fill="url(#docg)" stroke="#3c5a96" stroke-width="1.3" stroke-linejoin="round"/><path d="M269 389.1 L278.5 398.6 L270.6 398.6 Q269 398.6 269 397.0 Z" fill="#8fa9de" stroke="#3c5a96" stroke-width="1.1" stroke-linejoin="round"/><line x1="252.5" y1="404.9" x2="272.5" y2="404.9" stroke="#7e98ca" stroke-width="1.3"/><line x1="252.5" y1="410.3" x2="272.5" y2="410.3" stroke="#7e98ca" stroke-width="1.3"/><line x1="252.5" y1="415.7" x2="272.5" y2="415.7" stroke="#7e98ca" stroke-width="1.3"/><line x1="252.5" y1="421.2" x2="263.7" y2="421.2" stroke="#7e98ca" stroke-width="1.3"/>
<text x="41.4" y="87.6" font-size="22.3" font-weight="bold" fill="#111" textLength="617.2" lengthAdjust="spacingAndGlyphs">基幹システム・クラウド連携で業務全体の効率化と拡張を実現</text>
<text x="74.2" y="130.9" font-size="15.4" font-weight="bold" fill="#111" textLength="102.5" lengthAdjust="spacingAndGlyphs">既存の業務環境</text>
<text x="71.2" y="147.0" font-size="11.8" font-weight="bold" fill="#111" textLength="108.7" lengthAdjust="spacingAndGlyphs">（基幹・クラウド）</text>
<text x="48.0" y="266.2" font-size="10.2" font-weight="bold" fill="#111" textLength="28.2" lengthAdjust="spacingAndGlyphs">ERP /</text>
<text x="29.3" y="281.4" font-size="11.2" font-weight="bold" fill="#111" textLength="65.7" lengthAdjust="spacingAndGlyphs">基幹システム</text>
<text x="120.0" y="264.2" font-size="11.0" font-weight="bold" fill="#111" textLength="88.0" lengthAdjust="spacingAndGlyphs">クラウドサービス</text>
<text x="106.6" y="277.1" font-size="10.0" font-weight="bold" fill="#111" textLength="121.4" lengthAdjust="spacingAndGlyphs">(SaaS, AWS, Google Cloud)</text>
<text x="116.0" y="351.4" font-size="10.8" font-weight="bold" fill="#111" textLength="88.4" lengthAdjust="spacingAndGlyphs">既存データベース</text>
<text x="288.3" y="349.9" font-size="13.7" font-weight="bold" fill="#111" textLength="123.4" lengthAdjust="spacingAndGlyphs">自動連携・一元管理</text>
<text x="295.6" y="368.7" font-size="13.0" font-weight="bold" fill="#111" textLength="107.7" lengthAdjust="spacingAndGlyphs">プラットフォーム</text>
<text x="291.7" y="412.3" font-size="14.4" font-weight="bold" fill="#111" textLength="115.4" lengthAdjust="spacingAndGlyphs">重複・ミスを防止</text>
<text x="101.6" y="401.1" font-size="15.0" font-weight="bold" fill="#111" textLength="81.9" lengthAdjust="spacingAndGlyphs">手作業転記・</text>
<text x="101.6" y="422.0" font-size="15.0" font-weight="bold" fill="#111" textLength="110.4" lengthAdjust="spacingAndGlyphs">二重管理を解消！</text>
<text x="529.3" y="152.3" font-size="16.3" font-weight="bold" fill="#fff" textLength="45.3" lengthAdjust="spacingAndGlyphs">営業部</text>
<text x="528.5" y="234.4" font-size="16.5" font-weight="bold" fill="#fff" textLength="46.1" lengthAdjust="spacingAndGlyphs">経理部</text>
<text x="529.3" y="315.8" font-size="16.8" font-weight="bold" fill="#fff" textLength="45.3" lengthAdjust="spacingAndGlyphs">人事部</text>
<text x="529.3" y="397.3" font-size="16.3" font-weight="bold" fill="#fff" textLength="44.5" lengthAdjust="spacingAndGlyphs">企画部</text>
<text x="532.6" y="168.2" font-size="12.5" font-weight="normal" fill="#fff" textLength="38.5" lengthAdjust="spacingAndGlyphs">(Sales)</text>
<text x="516.8" y="250.0" font-size="12.8" font-weight="normal" fill="#fff" textLength="70.6" lengthAdjust="spacingAndGlyphs">(Accounting)</text>
<text x="539.9" y="331.2" font-size="12.5" font-weight="normal" fill="#fff" textLength="23.9" lengthAdjust="spacingAndGlyphs">(HR)</text>
<text x="523.9" y="414.0" font-size="13.3" font-weight="normal" fill="#fff" textLength="57.0" lengthAdjust="spacingAndGlyphs">(Planning)</text>
</svg>
</body></html>
